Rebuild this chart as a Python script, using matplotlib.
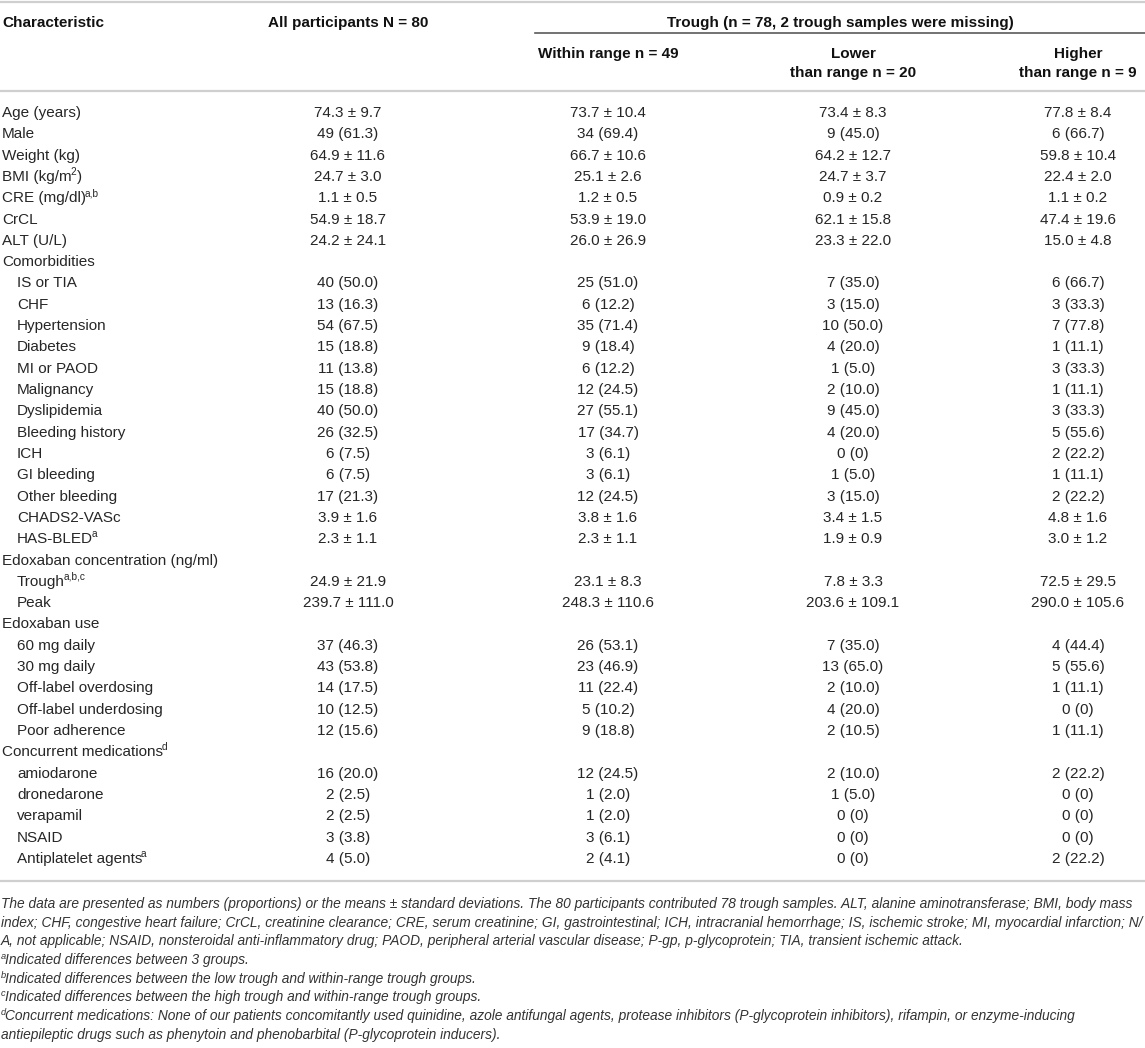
import matplotlib
matplotlib.use("Agg")
import matplotlib.pyplot as plt
from matplotlib import font_manager

# ---- table content ----
col_headers = ["All participants N = 80", "Within range n = 49",
               "Lower\nthan range n = 20", "Higher\nthan range n = 9"]
group_header = "Trough (n = 78, 2 trough samples were missing)"

labels = ["Age (years)", "Male", "Weight (kg)", "BMI (kg/m", "CRE (mg/dl)", "CrCL",
          "ALT (U/L)", "Comorbidities", "IS or TIA", "CHF", "Hypertension", "Diabetes",
          "MI or PAOD", "Malignancy", "Dyslipidemia", "Bleeding history", "ICH",
          "GI bleeding", "Other bleeding", "CHADS2-VASc", "HAS-BLED",
          "Edoxaban concentration (ng/ml)", "Trough", "Peak",
          "Edoxaban use", "60 mg daily", "30 mg daily", "Off-label overdosing",
          "Off-label underdosing", "Poor adherence",
          "Concurrent medications", "amiodarone", "dronedarone",
          "verapamil", "NSAID", "Antiplatelet agents"]
# superscript after each label (and closing text, for BMI)
label_sup = {3: ("2", ")"), 4: ("a,b", ""), 20: ("a", ""), 22: ("a,b,c", ""),
             30: ("d", ""), 35: ("a", "")}
indent = [0] * 7 + [0] + [1] * 13 + [0] + [1] * 2 + [0] + [1] * 5 + [0] + [1] * 5

all_part = ["74.3 ± 9.7", "49 (61.3)", "64.9 ± 11.6", "24.7 ± 3.0", "1.1 ± 0.5",
            "54.9 ± 18.7", "24.2 ± 24.1", "", "40 (50.0)", "13 (16.3)", "54 (67.5)",
            "15 (18.8)", "11 (13.8)", "15 (18.8)", "40 (50.0)", "26 (32.5)", "6 (7.5)",
            "6 (7.5)", "17 (21.3)", "3.9 ± 1.6", "2.3 ± 1.1", "", "24.9 ± 21.9",
            "239.7 ± 111.0", "", "37 (46.3)", "43 (53.8)", "14 (17.5)", "10 (12.5)",
            "12 (15.6)", "", "16 (20.0)", "2 (2.5)", "2 (2.5)", "3 (3.8)", "4 (5.0)"]
within = ["73.7 ± 10.4", "34 (69.4)", "66.7 ± 10.6", "25.1 ± 2.6", "1.2 ± 0.5",
          "53.9 ± 19.0", "26.0 ± 26.9", "", "25 (51.0)", "6 (12.2)", "35 (71.4)",
          "9 (18.4)", "6 (12.2)", "12 (24.5)", "27 (55.1)", "17 (34.7)", "3 (6.1)",
          "3 (6.1)", "12 (24.5)", "3.8 ± 1.6", "2.3 ± 1.1", "", "23.1 ± 8.3",
          "248.3 ± 110.6", "", "26 (53.1)", "23 (46.9)", "11 (22.4)", "5 (10.2)",
          "9 (18.8)", "", "12 (24.5)", "1 (2.0)", "1 (2.0)", "3 (6.1)", "2 (4.1)"]
lower = ["73.4 ± 8.3", "9 (45.0)", "64.2 ± 12.7", "24.7 ± 3.7", "0.9 ± 0.2",
         "62.1 ± 15.8", "23.3 ± 22.0", "", "7 (35.0)", "3 (15.0)", "10 (50.0)",
         "4 (20.0)", "1 (5.0)", "2 (10.0)", "9 (45.0)", "4 (20.0)", "0 (0)",
         "1 (5.0)", "3 (15.0)", "3.4 ± 1.5", "1.9 ± 0.9", "", "7.8 ± 3.3",
         "203.6 ± 109.1", "", "7 (35.0)", "13 (65.0)", "2 (10.0)", "4 (20.0)",
         "2 (10.5)", "", "2 (10.0)", "1 (5.0)", "0 (0)", "0 (0)", "0 (0)"]
higher = ["77.8 ± 8.4", "6 (66.7)", "59.8 ± 10.4", "22.4 ± 2.0", "1.1 ± 0.2",
          "47.4 ± 19.6", "15.0 ± 4.8", "", "6 (66.7)", "3 (33.3)", "7 (77.8)",
          "1 (11.1)", "3 (33.3)", "1 (11.1)", "3 (33.3)", "5 (55.6)", "2 (22.2)",
          "1 (11.1)", "2 (22.2)", "4.8 ± 1.6", "3.0 ± 1.2", "", "72.5 ± 29.5",
          "290.0 ± 105.6", "", "4 (44.4)", "5 (55.6)", "1 (11.1)", "0 (0)",
          "1 (11.1)", "", "2 (22.2)", "0 (0)", "0 (0)", "0 (0)", "2 (22.2)"]

footnotes = [
    "The data are presented as numbers (proportions) or the means ± standard deviations. The 80 participants contributed 78 trough samples. ALT, alanine aminotransferase; BMI, body mass",
    "index; CHF, congestive heart failure; CrCL, creatinine clearance; CRE, serum creatinine; GI, gastrointestinal; ICH, intracranial hemorrhage; IS, ischemic stroke; MI, myocardial infarction; N/",
    "A, not applicable; NSAID, nonsteroidal anti-inflammatory drug; PAOD, peripheral arterial vascular disease; P-gp, p-glycoprotein; TIA, transient ischemic attack.",
    "Indicated differences between 3 groups.",
    "Indicated differences between the low trough and within-range trough groups.",
    "Indicated differences between the high trough and within-range trough groups.",
    "Concurrent medications: None of our patients concomitantly used quinidine, azole antifungal agents, protease inhibitors (P-glycoprotein inhibitors), rifampin, or enzyme-inducing",
    "antiepileptic drugs such as phenytoin and phenobarbital (P-glycoprotein inducers).",
]
footnote_sup = ["", "", "", "a", "b", "c", "d", ""]

# ---- fonts ----
try:
    font_manager.findfont("Liberation Sans Narrow", fallback_to_default=False)
    note_family = "Liberation Sans Narrow"
except Exception:
    note_family = "Liberation Sans"

plt.rcParams["font.family"] = ["Liberation Sans", "DejaVu Sans"]

W, H = 1145, 1048
fig = plt.figure(figsize=(W / 100, H / 100), dpi=100)
ax = fig.add_axes([0, 0, 1, 1])
ax.set_xlim(0, W)
ax.set_ylim(H, 0)
ax.axis("off")
renderer = fig.canvas.get_renderer()


def right_edge(t):
    return t.get_window_extent(renderer).x1


fs = 11
txt = "#262626"
col_x = [348, 608, 853, 1078]

# rules
light = "#cfcfcf"
ax.plot([0, W], [1.5, 1.5], color=light, lw=1.6)
ax.plot([535, W], [33, 33], color="#5a5a5a", lw=1.2)
ax.plot([0, W], [91, 91], color=light, lw=1.6)
ax.plot([0, W], [881, 881], color=light, lw=1.6)

# headers
ax.text(2, 27, "Characteristic", fontsize=fs, fontweight="bold", color="#111", va="baseline")
ax.text(col_x[0], 27, col_headers[0], fontsize=fs, fontweight="bold", color="#111",
        ha="center", va="baseline")
ax.text(840, 27, group_header, fontsize=fs, fontweight="bold", color="#111",
        ha="center", va="baseline")
for x, h in zip(col_x[1:], col_headers[1:]):
    for k, part in enumerate(h.split("\n")):
        ax.text(x, 58 + k * 19.5, part, fontsize=fs, fontweight="bold", color="#111",
                ha="center", va="baseline")

# body
y0, dy = 117, 21.31
for i, lab in enumerate(labels):
    yb = y0 + i * dy
    t = ax.text(2 + 15 * indent[i], yb, lab, fontsize=fs, color=txt, va="baseline")
    if i in label_sup:
        sup, tail = label_sup[i]
        xr = right_edge(t)
        s = ax.text(xr - 1.5, yb - 6, sup, fontsize=fs * 0.66, color=txt, va="baseline")
        if tail:
            ax.text(right_edge(s) + 0.8, yb, tail, fontsize=fs, color=txt, va="baseline")
    for x, col in zip(col_x, [all_part, within, lower, higher]):
        if col[i]:
            ax.text(x, yb, col[i], fontsize=fs, color=txt, ha="center", va="baseline")

# footnotes, sized so the widest line spans the page width
widths = []
for line in footnotes:
    probe = ax.text(0, 0, line, fontsize=10, family=note_family, style="italic")
    widths.append(probe.get_window_extent(renderer).width)
    probe.remove()
note_fs = 10 * 1140 / max(widths)
for k, line in enumerate(footnotes):
    yb = 908 + k * 18.7
    x = 1
    if footnote_sup[k]:
        s = ax.text(x, yb - 5, footnote_sup[k], fontsize=note_fs * 0.68, family=note_family,
                    style="italic", color="#333", va="baseline")
        x = right_edge(s) - 1.0
    ax.text(x, yb, line, fontsize=note_fs, family=note_family,
            style="italic", color="#333", va="baseline")

fig.savefig("out.png", dpi=100, facecolor="white")
